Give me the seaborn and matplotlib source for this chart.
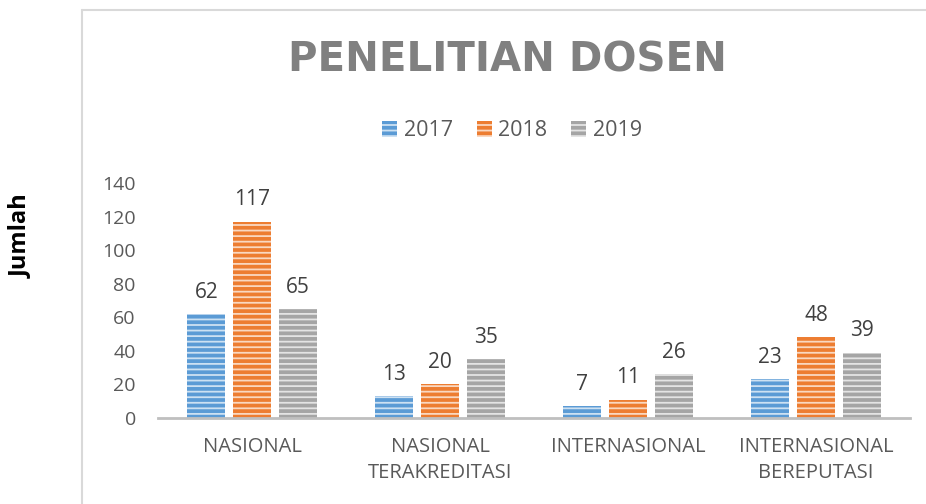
import pandas as pd
import seaborn as sns
import matplotlib.pyplot as plt
from matplotlib.lines import Line2D
from matplotlib.patches import Patch

kategori = ["NASIONAL", "NASIONAL\nTERAKREDITASI", "INTERNASIONAL", "INTERNASIONAL\nBEREPUTASI"]
tahun = ["2017", "2018", "2019"]
nilai_2017 = [62, 13, 7, 23]
nilai_2018 = [117, 20, 11, 48]
nilai_2019 = [65, 35, 26, 39]
warna = ["#5B9BD5", "#ED7D31", "#A5A5A5"]

df = pd.DataFrame({
    "kategori": kategori * 3,
    "tahun": [t for t in tahun for _ in kategori],
    "jumlah": nilai_2017 + nilai_2018 + nilai_2019,
})

sns.set_style("white")
plt.rcParams["font.family"] = ["Open Sans", "DejaVu Sans"]
plt.rcParams["hatch.linewidth"] = 1.3

fig = plt.figure(figsize=(9.26, 5.04), dpi=100)
ax = fig.add_axes([158 / 926, 1 - 418 / 504, 752 / 926, 235 / 504])

sns.barplot(data=df, x="kategori", y="jumlah", hue="tahun", palette=warna,
            width=0.73, gap=0.17, ax=ax, legend=False, saturation=1)

## striped look like the excel pattern fill
for cont in ax.containers:
    for bar in cont:
        bar.set_hatch("---")
        bar.set_edgecolor((1, 1, 1, 0.7))
        bar.set_linewidth(0)
    ax.bar_label(cont, padding=8, fontsize=15, color="#404040")

ax.set_ylim(0, 140)
ax.set_xlim(-0.5, 3.5)
ax.set_yticks(range(0, 141, 20))
ax.set_xlabel("")
ax.set_ylabel("Jumlah", fontsize=17, fontweight="bold", color="black")
ax.yaxis.set_label_coords(-0.166, 0.774)
ax.tick_params(axis="y", length=0, pad=16, labelsize=14, labelcolor="#595959")
ax.tick_params(axis="x", length=0, pad=14, labelsize=14.5, labelcolor="#595959")
for lbl in ax.get_xticklabels():
    lbl.set_linespacing(1.4)

sns.despine(ax=ax, left=True)
ax.spines["bottom"].set_color("#BFBFBF")
ax.spines["bottom"].set_linewidth(2)

fig.text(507 / 926, 1 - 61 / 504, "PENELITIAN DOSEN", ha="center", va="center",
         fontsize=29, fontweight="bold", color="#808080", family="DejaVu Sans")

handles = [Patch(facecolor=c, edgecolor=(1, 1, 1, 0.7), hatch="---", linewidth=0) for c in warna]
fig.legend(handles, tahun, loc="center", bbox_to_anchor=(512 / 926, 1 - 131 / 504), ncol=3,
           frameon=False, fontsize=15.5, labelcolor="#595959", handlelength=0.7,
           handleheight=0.7, handletextpad=0.3, columnspacing=1.1)

## chart area border (left and top only visible in the crop)
fig.add_artist(Line2D([82 / 926, 82 / 926], [0, 1 - 10 / 504], transform=fig.transFigure,
                      color="#D9D9D9", lw=1.5))
fig.add_artist(Line2D([82 / 926, 1], [1 - 10 / 504, 1 - 10 / 504], transform=fig.transFigure,
                      color="#D9D9D9", lw=1.5))

fig.savefig("out.png", dpi=100)
